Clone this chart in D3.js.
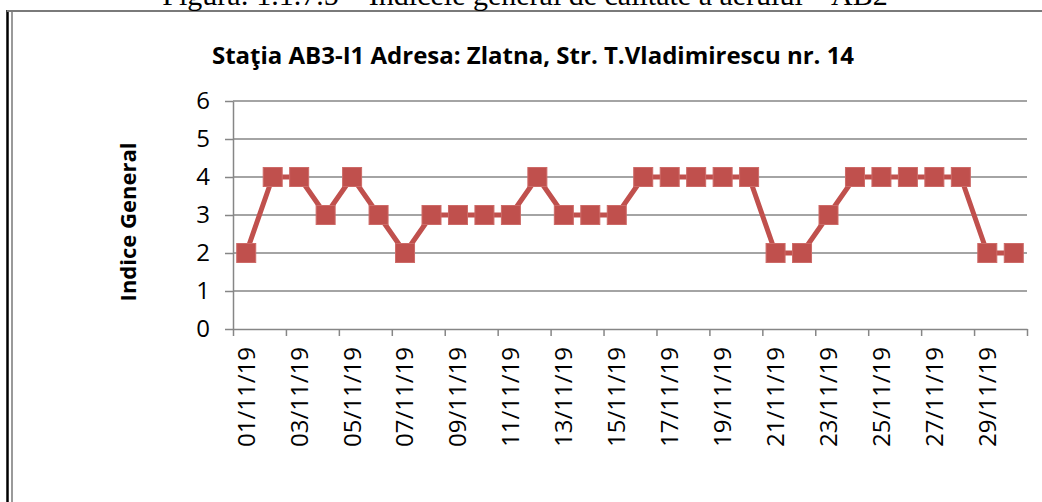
<!DOCTYPE html>
<html>
<head>
<meta charset="utf-8">
<script src="https://cdn.jsdelivr.net/npm/d3@7"></script>
<style>
body { margin: 0; background: #fff; }
svg { display: block; }
text { font-family: "Open Sans", sans-serif; fill: #000; }
.axis path, .axis line { stroke: #868686; stroke-width: 1.5; }
.grid line { stroke: #868686; stroke-width: 1.5; }
</style>
</head>
<body>
<svg class="main"></svg>
<script>
var days = ["01/11/19", "02/11/19", "03/11/19", "04/11/19", "05/11/19", "06/11/19",
    "07/11/19", "08/11/19", "09/11/19", "10/11/19", "11/11/19", "12/11/19",
    "13/11/19", "14/11/19", "15/11/19", "16/11/19", "17/11/19", "18/11/19",
    "19/11/19", "20/11/19", "21/11/19", "22/11/19", "23/11/19", "24/11/19",
    "25/11/19", "26/11/19", "27/11/19", "28/11/19", "29/11/19", "30/11/19"];
var indice = [2, 4, 4, 3, 4, 3, 2, 3, 3, 3, 3, 4, 3, 3, 3,
    4, 4, 4, 4, 4, 2, 2, 3, 4, 4, 4, 4, 4, 2, 2];
var yTicks = [0, 1, 2, 3, 4, 5, 6];

var caption = "Figura: 1.1.7.5 \u2013 Indicele general de calitate a aerului \u2013 AB2",
    title = "Sta\u0163ia AB3-I1 Adresa: Zlatna, Str. T.Vladimirescu nr. 14",
    yTitle = "Indice General";

var canvas = { width: 1042, height: 502 },
    plot = { left: 233, right: 1027, top: 101, bottom: 329 },
    red = "#C0504D",
    markerSize = 19;

var svg = d3.select(".main")
    .attr("width", canvas.width)
    .attr("height", canvas.height);

// page frame (document border around the chart)
svg.append("line")
    .attr("x1", 7.5).attr("x2", 7.5).attr("y1", 10).attr("y2", canvas.height)
    .attr("stroke", "#000").attr("stroke-width", 2.5);
svg.append("line")
    .attr("x1", 12).attr("x2", 12).attr("y1", 11).attr("y2", canvas.height)
    .attr("stroke", "#9a9a9a").attr("stroke-width", 2);
svg.append("line")
    .attr("x1", 7).attr("x2", canvas.width).attr("y1", 11).attr("y2", 11)
    .attr("stroke", "#7a7a7a").attr("stroke-width", 2);

// caption above the frame, cut by the top edge as in the scan
svg.append("text")
    .attr("x", 525).attr("y", 5)
    .attr("text-anchor", "middle")
    .style("font-family", "'Liberation Serif', serif")
    .style("font-size", "30px")
    .text(caption);

svg.append("text")
    .attr("x", 533).attr("y", 64)
    .attr("text-anchor", "middle")
    .style("font-weight", "bold")
    .style("font-size", "24px")
    .text(title);

var x = d3.scaleBand().domain(days).range([plot.left, plot.right]).padding(0),
    xIdx = d3.scaleLinear().domain([0, days.length]).range([plot.left, plot.right]),
    y = d3.scaleLinear().domain([0, 6]).range([plot.bottom, plot.top]);

// horizontal gridlines
svg.append("g")
    .attr("class", "grid")
    .selectAll("line")
    .data(yTicks.filter(function(d) { return d > 0; })).enter()
    .append("line")
    .attr("x1", plot.left).attr("x2", plot.right)
    .attr("y1", function(d) { return y(d); })
    .attr("y2", function(d) { return y(d); });

// y axis
var yAxis = svg.append("g")
    .attr("class", "axis")
    .attr("transform", "translate(" + plot.left + ",0)")
    .call(d3.axisLeft(y).tickValues(yTicks).tickFormat(d3.format("d"))
        .tickSizeInner(8).tickSizeOuter(0).tickPadding(15));
yAxis.selectAll("text")
    .style("font-size", "24px")
    .style("font-family", "'Open Sans', sans-serif");

// x axis: tick marks every two days at category boundaries
svg.append("g")
    .attr("class", "axis")
    .attr("transform", "translate(0," + plot.bottom + ")")
    .call(d3.axisBottom(xIdx).tickValues(d3.range(0, days.length + 1, 2))
        .tickFormat("").tickSizeInner(7).tickSizeOuter(0));

// x labels on odd days
var xLabels = svg.append("g")
    .attr("transform", "translate(0," + plot.bottom + ")")
    .call(d3.axisBottom(x).tickValues(days.filter(function(d, i) { return i % 2 === 0; }))
        .tickSize(0));
xLabels.select(".domain").remove();
xLabels.selectAll("text")
    .style("font-size", "24px")
    .style("font-family", "'Open Sans', sans-serif")
    .attr("text-anchor", "end")
    .attr("transform", "rotate(-90)")
    .attr("x", -18)
    .attr("y", 0)
    .attr("dy", "0.35em");

// y title
svg.append("text")
    .attr("transform", "translate(136,222) rotate(-90)")
    .attr("text-anchor", "middle")
    .style("font-weight", "bold")
    .style("font-size", "22px")
    .text(yTitle);

// series
var cx = function(d, i) { return x(days[i]) + x.bandwidth() / 2; };
svg.append("path")
    .datum(indice)
    .attr("fill", "none")
    .attr("stroke", red)
    .attr("stroke-width", 5)
    .attr("stroke-linejoin", "round")
    .attr("d", d3.line().x(cx).y(function(d) { return y(d); }));

svg.append("g")
    .selectAll("rect")
    .data(indice).enter()
    .append("rect")
    .attr("x", function(d, i) { return cx(d, i) - markerSize / 2; })
    .attr("y", function(d) { return y(d) - markerSize / 2; })
    .attr("width", markerSize)
    .attr("height", markerSize)
    .attr("fill", red)
    .attr("stroke", "#cd6a67")
    .attr("stroke-width", 1);
</script>
</body>
</html>
